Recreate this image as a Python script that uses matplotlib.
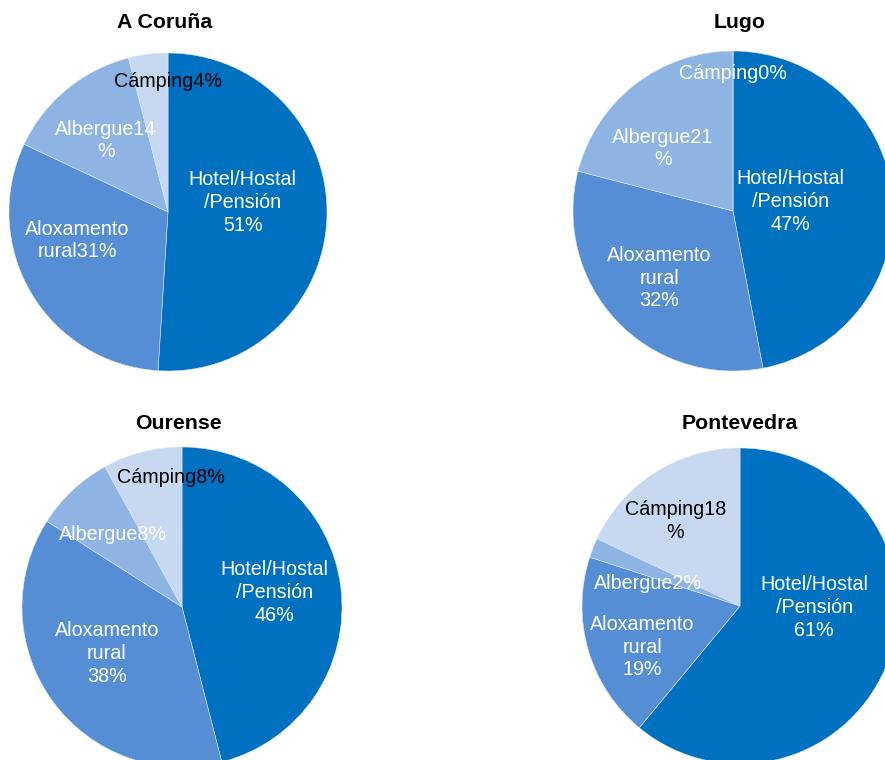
import math
from matplotlib import pyplot as plt

plt.rcParams['font.family'] = ['Liberation Sans', 'DejaVu Sans']

# data
provinces = ["A Coruña", "Lugo", "Ourense", "Pontevedra"]
categories = ["Hotel/Hostal/Pensión", "Aloxamento rural", "Albergue", "Cámping"]
coruna = [51, 31, 14, 4]
lugo = [47, 32, 21, 0]
ourense = [46, 38, 8, 8]
pontevedra = [61, 19, 2, 18]
values = [coruna, lugo, ourense, pontevedra]

# label text as wrapped in the original (value filled in)
label_fmt = [
    ["Hotel/Hostal\n/Pensión\n{}%", "Aloxamento\nrural{}%", "Albergue{}\n%", "Cámping{}%"],
    ["Hotel/Hostal\n/Pensión\n{}%", "Aloxamento\nrural\n{}%", "Albergue{}\n%", "Cámping{}%"],
    ["Hotel/Hostal\n/Pensión\n{}%", "Aloxamento\nrural\n{}%", "Albergue{}%", "Cámping{}%"],
    ["Hotel/Hostal\n/Pensión\n{}%", "Aloxamento\nrural\n{}%", "Albergue{}%", "Cámping{}\n%"],
]

colors = ["#0070C0", "#558ED5", "#8EB4E3", "#C6D9F1"]

# layout in pixels: pie centre x, y, radius, title x
W, H = 885, 760
layout = [
    (168, 212, 159, 165),
    (733, 211, 160, 740),
    (182, 607, 160, 178),
    (740, 606, 158, 740),
]
title_y = [22, 22, 424, 424]

# label positions relative to centre, in radius units
label_pos = [
    [(0.47, 0.06), (-0.57, -0.18), (-0.39, 0.45), (0.0, 0.82)],
    [(0.36, 0.06), (-0.46, -0.42), (-0.44, 0.39), (0.0, 0.86)],
    [(0.58, 0.09), (-0.47, -0.29), (-0.43, 0.45), (-0.07, 0.81)],
    [(0.47, -0.01), (-0.62, -0.26), (-0.58, 0.14), (-0.41, 0.54)],
]
label_colors = [
    ["white", "white", "white", "black"],
    ["white", "white", "white", "white"],
    ["white", "white", "white", "black"],
    ["white", "white", "white", "black"],
]

fig = plt.figure(figsize=(W / 100, H / 100), dpi=100)

for i, name in enumerate(provinces):
    cx, cy, r, tx = layout[i]
    ax = fig.add_axes([(cx - r) / W, (H - cy - r) / H, 2 * r / W, 2 * r / H])
    ax.pie(values[i], colors=colors, startangle=90, counterclock=False,
           radius=1, wedgeprops=dict(edgecolor="#D6E4F4", linewidth=0.4))
    ax.set_xlim(-1, 1)
    ax.set_ylim(-1, 1)
    ax.set_axis_off()
    for j, v in enumerate(values[i]):
        dx, dy = label_pos[i][j]
        ax.text(dx, dy, label_fmt[i][j].format(v), ha="center", va="center",
                fontsize=14.2, color=label_colors[i][j], linespacing=1.25)
    fig.text(tx / W, 1 - title_y[i] / H, name, ha="center", va="center",
             fontsize=15.3, fontweight="bold")

plt.savefig("out.png", dpi=100)
